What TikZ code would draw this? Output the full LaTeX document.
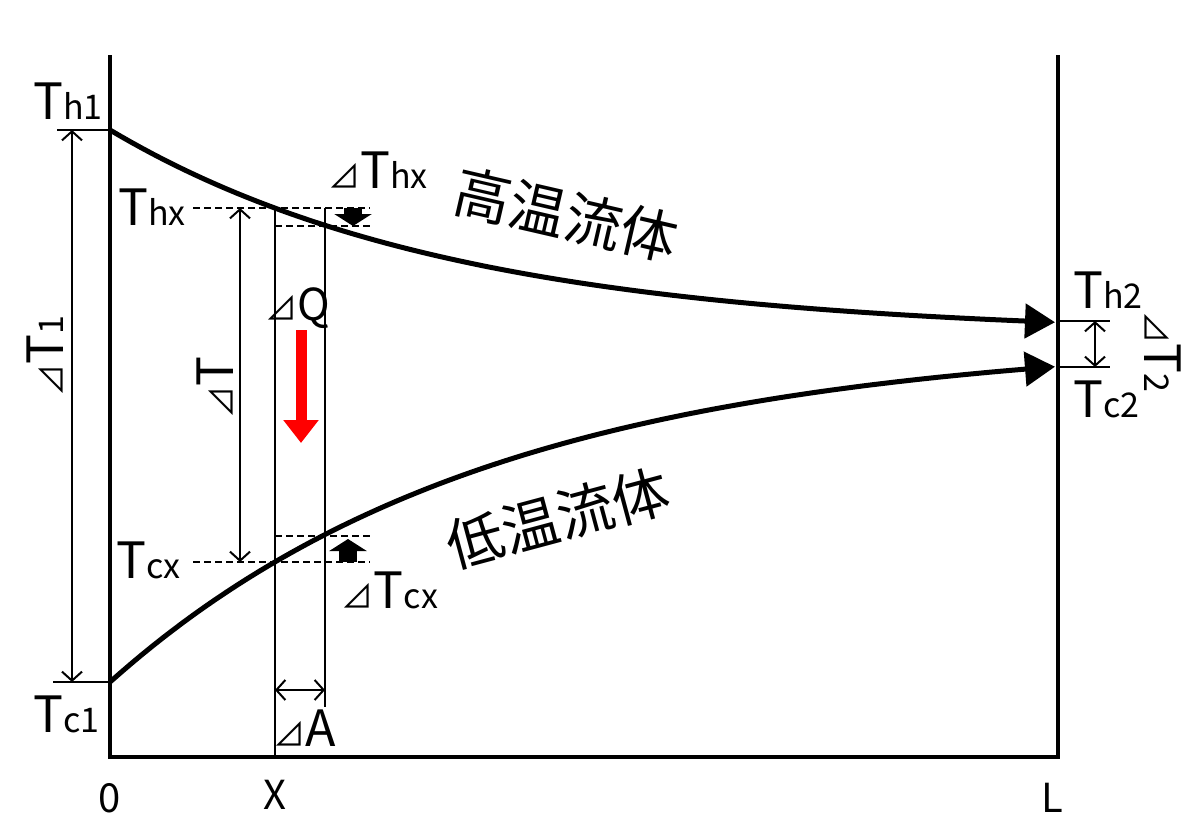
\documentclass[tikz,border=0pt]{standalone}
\usepackage{fontspec}
\setmainfont{Noto Sans CJK JP}
\usetikzlibrary{arrows.meta,positioning}
\tikzset{
        axis/.style = {line width=4.5pt, line join=miter},
        flow/.style = {line width=5pt, -{Triangle[length=30pt,width=34pt]}},
        tick/.style = {line width=1.5pt},
        guide/.style = {line width=1.2pt},
        level/.style = {line width=2pt, dash pattern=on 7pt off 4pt},
        dim/.style = {line width=2pt,
            {Straight Barb[length=9pt,width=20pt]}-{Straight Barb[length=9pt,width=20pt]}},
        nudge/.style = {line width=18pt, -{Triangle[length=12pt,width=37pt]}},
        heat/.style = {red, line width=11pt, -{Triangle[length=23pt,width=34pt]}},
        lab/.style = {inner sep=0pt, font=\fontsize{50}{55}\selectfont},
        axlab/.style = {inner sep=0pt, font=\fontsize{40}{44}\selectfont},
        fluid/.style = {inner sep=0pt, font=\fontsize{57}{60}\selectfont},
    }
\newcommand{\sm}[1]{{\fontsize{34}{36}\selectfont #1}}
\newcommand{\dl}{{\fontsize{32}{34}\selectfont ⊿}}

\begin{document}
\begin{tikzpicture}[x=1pt,y=-1pt]
    \useasboundingbox (0,0) rectangle (1200,838);

    % frame of the exchanger
    \coordinate (o) at (110,757);
    \coordinate (top0) at (110,55);
    \coordinate (l) at (1058,757);
    \coordinate (topL) at (1058,55);
    \draw[axis] (top0) -- (o) -- (l) -- (topL);

    % inlet and outlet temperatures
    \coordinate (h1) at (110,130);
    \coordinate (c1) at (110,682);
    \coordinate (h2) at (1058,321);
    \coordinate (c2) at (1058,367);
    \draw[tick] (h1) -- ++(-53,0) coordinate (h1l);
    \draw[tick] (c1) -- ++(-57,0) coordinate (c1l);
    \draw[tick] (h2) -- ++(52,0) coordinate (h2r);
    \draw[tick] (c2) -- ++(52,0) coordinate (c2r);

    % element at x
    \coordinate (hx) at (275,208);
    \coordinate (hxa) at (325,226);
    \coordinate (cx) at (275,562);
    \coordinate (cxa) at (325,536);
    \coordinate (xa) at (325,707);
    \coordinate (lv) at (193,0);
    \coordinate (rv) at (370,0);

    % the two fluids
    \draw[flow] plot[domain=110:1055, samples=90]
        (\x, {335.5-205.5*exp(-0.0029*(\x-110))});
    \draw[flow] plot[domain=110:1055, samples=90]
        (\x, {337+345*exp(-0.00259*(\x-110))});

    \draw[guide] (hx) -- (hx |- o);
    \draw[guide] (hx -| xa) -- (xa);
    \draw[level] (lv |- hx) -- (rv |- hx);
    \draw[level] (hx |- hxa) -- (rv |- hxa);
    \draw[level] (lv |- cx) -- (rv |- cx);
    \draw[level] (hx |- cxa) -- (rv |- cxa);

    % dimension arrows
    \coordinate (d1) at (72,0);
    \coordinate (dt) at (240,0);
    \coordinate (d2) at (1095,0);
    \coordinate (da) at (0,690);
    \draw[dim] (d1 |- h1) -- (d1 |- c1);
    \draw[dim] (dt |- hx) -- (dt |- cx);
    \draw[dim] (d2 |- h2) -- (d2 |- c2);
    \draw[dim] (hx |- da) -- (xa |- da);

    % changes across the element
    \coordinate (nh) at (353,0);
    \coordinate (nc) at (348,0);
    \draw[nudge] (nh |- hx) -- (nh |- hxa);
    \draw[nudge, shorten >=3pt] (nc |- cx) -- (nc |- cxa);
    \coordinate (q) at (301,330);
    \draw[heat] (q) -- ++(0,113) coordinate (qend);

    % labels
    \node[lab, anchor=base west] (th1) at (33,119) {T\sm{h1}};
    \node[lab, anchor=base west] (tc1) at (33,732) {T\sm{c1}};
    \node[lab, anchor=base west] (thx) at (118,225) {T\sm{hx}};
    \node[lab, anchor=base west] (tcx) at (116,578) {T\sm{cx}};
    \node[lab, anchor=base west] (th2) at (1073,308) {T\sm{h2}};
    \node[lab, anchor=base west] (tc2) at (1073,417) {T\sm{c2}};
    \node[lab, rotate=90] (dt1) at (45,356) {\dl T\sm{1}};
    \node[lab, rotate=90] (dtx) at (215,388) {\dl T};
    \node[lab, rotate=-90] (dt2) at (1163,352) {\dl T\sm{2}};
    \node[lab] (dthx) at (378,170) {\dl T\sm{hx}};
    \node[lab] (dtcx) at (390,590) {\dl T\sm{cx}};
    \node[lab, font=\fontsize{44}{48}\selectfont] (dq) at (298,308) {\dl Q};
    \node[lab] (dA) at (305,728) {\dl A};
    \node[axlab, below=26pt of o] (zero) {0};
    \node[axlab, below=23pt of hx |- o] (xlab) {X};
    \node[axlab, below=26pt of l, xshift=-6pt] (llab) {L};
    \node[fluid, rotate=-13] (hot) at (566,215) {高温流体};
    \node[fluid, rotate=15] (cold) at (558,518) {低温流体};
\end{tikzpicture}
\end{document}
